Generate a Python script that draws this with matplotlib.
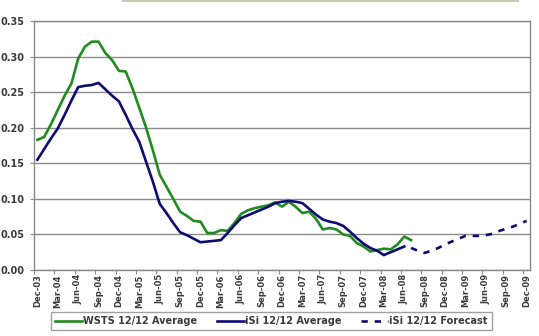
import matplotlib
matplotlib.use("Agg")
import matplotlib.pyplot as plt
from matplotlib.lines import Line2D
import numpy as np

# Months Dec-03 .. Dec-09 (73 months); labels every quarter
months = ["Dec", "Jan", "Feb", "Mar", "Apr", "May", "Jun", "Jul", "Aug", "Sep", "Oct", "Nov"]
month_labels = []
for i in range(73):
    m = months[i % 12]
    yr = 3 + (i + 11) // 12
    month_labels.append(f"{m}-{yr:02d}")

wsts = [0.183, 0.187, 0.205, 0.225, 0.245, 0.262, 0.297, 0.314, 0.321, 0.321,
        0.305, 0.295, 0.280, 0.279, 0.255, 0.228, 0.200, 0.168, 0.134, 0.117,
        0.100, 0.082, 0.076, 0.069, 0.068, 0.052, 0.052, 0.056, 0.055, 0.066,
        0.079, 0.084, 0.087, 0.089, 0.091, 0.095, 0.089, 0.096, 0.089, 0.080,
        0.082, 0.072, 0.057, 0.059, 0.057, 0.050, 0.048, 0.038, 0.033, 0.026,
        0.028, 0.030, 0.029, 0.036, 0.047, 0.042]

isi = [0.155, 0.170, 0.185, 0.199, 0.218, 0.238, 0.257, 0.259, 0.260, 0.263,
       0.254, 0.245, 0.237, 0.218, 0.198, 0.180, 0.152, 0.124, 0.093, 0.080,
       0.066, 0.053, 0.049, 0.044, 0.039, 0.040, 0.041, 0.042, 0.052, 0.063,
       0.073, 0.077, 0.081, 0.085, 0.089, 0.094, 0.096, 0.097, 0.096, 0.094,
       0.086, 0.078, 0.071, 0.068, 0.066, 0.062, 0.054, 0.045, 0.037, 0.031,
       0.027, 0.021, 0.025, 0.029, 0.033]

forecast_start = 55
forecast = [0.031, 0.027, 0.024, 0.027, 0.031, 0.036, 0.040, 0.044, 0.048,
            0.048, 0.048, 0.049, 0.051, 0.055, 0.058, 0.061, 0.065, 0.069]

yticks = [0.00, 0.05, 0.10, 0.15, 0.20, 0.25, 0.30, 0.35]

green = "#218b21"
navy = "#0c0c72"
grid_c = "#8a8a8a"
txt_c = "#3a3a3a"

fig = plt.figure(figsize=(5.39, 3.36), dpi=100)
ax = fig.add_axes([34/539, 1-270/336, (530-34)/539, (270-21)/336])

x_w = np.arange(len(wsts))
x_i = np.arange(len(isi))
x_f = np.arange(forecast_start, forecast_start + len(forecast))

ax.plot(x_w, wsts, color=green, lw=1.9, label="WSTS 12/12 Average", solid_joinstyle="round")
ax.plot(x_i, isi, color=navy, lw=1.9, label="iSi 12/12 Average", solid_joinstyle="round")
ax.plot(x_f, forecast, color=navy, lw=1.9, ls=(0, (2.4, 2.6)), label="iSi 12/12 Forecast")

ax.set_xlim(-0.5, 72.5)
ax.set_ylim(0, 0.35)
ax.set_yticks(yticks)
ax.set_yticklabels([f"{v:.2f}" for v in yticks], fontsize=7, fontweight="bold", color=txt_c)
ax.yaxis.grid(True, color=grid_c, lw=1.0)
ax.set_axisbelow(True)

# tick marks between categories, labels on categories
ax.set_xticks(np.arange(-0.5, 73, 3))
ax.set_xticklabels([])
ax.set_xticks(np.arange(0, 73, 3), minor=True)
ax.set_xticklabels([month_labels[i] for i in range(0, 73, 3)], minor=True,
                   rotation=90, fontsize=6.0, fontweight="bold", color=txt_c)
ax.tick_params(axis="x", which="major", length=3, color=grid_c, width=0.8)
ax.tick_params(axis="x", which="minor", length=0, pad=3)
ax.tick_params(axis="y", length=3, color=grid_c, width=0.8, pad=4)

for s in ["left", "bottom", "right", "top"]:
    ax.spines[s].set_color(grid_c)
    ax.spines[s].set_linewidth(1.0)

leg = fig.legend(loc="center", bbox_to_anchor=(0.5037, 0.0446), ncol=3,
                 prop={"size": 7.0, "weight": "bold"}, frameon=True, fancybox=False,
                 edgecolor="#8a8a8a", handlelength=2.8, handletextpad=0.1,
                 columnspacing=2.0, borderpad=0.4)
for t in leg.get_texts():
    t.set_color(txt_c)
leg.get_frame().set_linewidth(1.0)

fig.add_artist(Line2D([123/539, 518/539], [1-1.2/336, 1-1.2/336], color="#c9c9b4", lw=1.5))

fig.savefig("out.png", dpi=100)
